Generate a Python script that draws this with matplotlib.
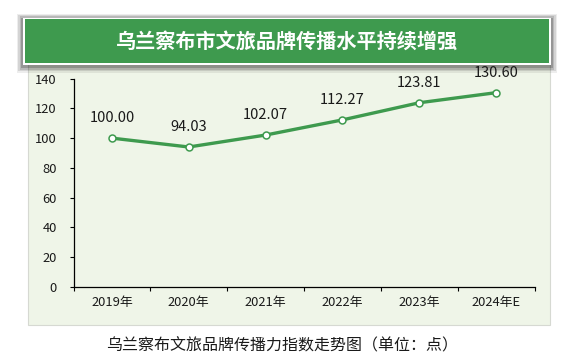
import matplotlib
matplotlib.use("Agg")
import matplotlib.pyplot as plt
from matplotlib.patches import Rectangle
import numpy as np

plt.rcParams['font.family'] = ['Noto Sans CJK SC', 'DejaVu Sans']

years = ["2019年", "2020年", "2021年", "2022年", "2023年", "2024年E"]
index_values = [100.00, 94.03, 102.07, 112.27, 123.81, 130.60]
value_labels = ["100.00", "94.03", "102.07", "112.27", "123.81", "130.60"]
y_ticks = [0, 20, 40, 60, 80, 100, 120, 140]

title = "乌兰察布市文旅品牌传播水平持续增强"
caption = "乌兰察布文旅品牌传播力指数走势图（单位：点）"

W, H = 574, 364
green = "#3e9a4e"
panel_bg = "#eff5e8"

fig = plt.figure(figsize=(W / 100, H / 100), dpi=100)
fig.patch.set_facecolor("white")


def px_rect(x0, y0, x1, y1, **kw):
    # rectangle given in pixel coords (top-left origin)
    return Rectangle((x0 / W, 1 - y1 / H), (x1 - x0) / W, (y1 - y0) / H,
                     transform=fig.transFigure, **kw)


# chart panel
fig.patches.append(px_rect(28, 63, 549.5, 324.5, facecolor=panel_bg,
                           edgecolor="#d6d9d2", linewidth=0.8, zorder=0))

# title box shadow (soft)
for i, a in enumerate([0.07, 0.10, 0.13, 0.18]):
    g = 6 - i * 1.5
    fig.patches.append(px_rect(22.5 - g, 17.5 - g + 2, 551 + g, 64.5 + g + 2,
                               facecolor="black", edgecolor="none",
                               alpha=a, zorder=1))
# white border + green title box
fig.patches.append(px_rect(22.5, 17.5, 551, 64.5, facecolor="white",
                           edgecolor="none", zorder=2))
fig.patches.append(px_rect(24.5, 19.5, 549, 62.5, facecolor=green,
                           edgecolor="none", zorder=3))
fig.text(287 / W, 1 - 41 / H, title, color="white", fontsize=14.5,
         fontweight="bold", ha="center", va="center", zorder=4)

# axes
ax = fig.add_axes([73.5 / W, 1 - 286.7 / H, (534.5 - 73.5) / W,
                   (286.7 - 78.7) / H])
ax.set_zorder(5)
ax.set_facecolor("none")
x = np.arange(len(years))
ax.plot(x, index_values, color=green, linewidth=2.4, marker="o",
        markersize=5, markerfacecolor="white", markeredgecolor=green,
        markeredgewidth=1.1, zorder=3, clip_on=False)
for xi, v, lab in zip(x, index_values, value_labels):
    ax.annotate(lab, (xi, v), xytext=(0, 14.5), textcoords="offset points",
                ha="center", va="center", fontsize=10.5, color="#1a1a1a")

ax.set_xlim(-0.5, len(years) - 0.5)
ax.set_ylim(0, 140)
ax.set_yticks(y_ticks)
ax.set_yticklabels([str(t) for t in y_ticks])
ax.set_xticks(np.arange(len(years) + 1) - 0.5)
ax.set_xticklabels([])
ax.set_xticks(x, minor=True)
ax.set_xticklabels(years, minor=True)
ax.tick_params(axis="x", which="major", direction="out", length=3,
               width=0.8, color="black")
ax.tick_params(axis="x", which="minor", length=0, pad=7, labelsize=9.3,
               labelcolor="#1a1a1a")
ax.tick_params(axis="y", direction="out", length=3, width=0.8, pad=9,
               labelsize=9.3, labelcolor="#1a1a1a")
for s in ["top", "right"]:
    ax.spines[s].set_visible(False)
for s in ["left", "bottom"]:
    ax.spines[s].set_color("black")
    ax.spines[s].set_linewidth(0.9)

fig.text(282 / W, 1 - 346 / H, caption, color="#1a1a1a", fontsize=11.5,
         ha="center", va="center")

fig.savefig("out.png", dpi=100, facecolor="white")
